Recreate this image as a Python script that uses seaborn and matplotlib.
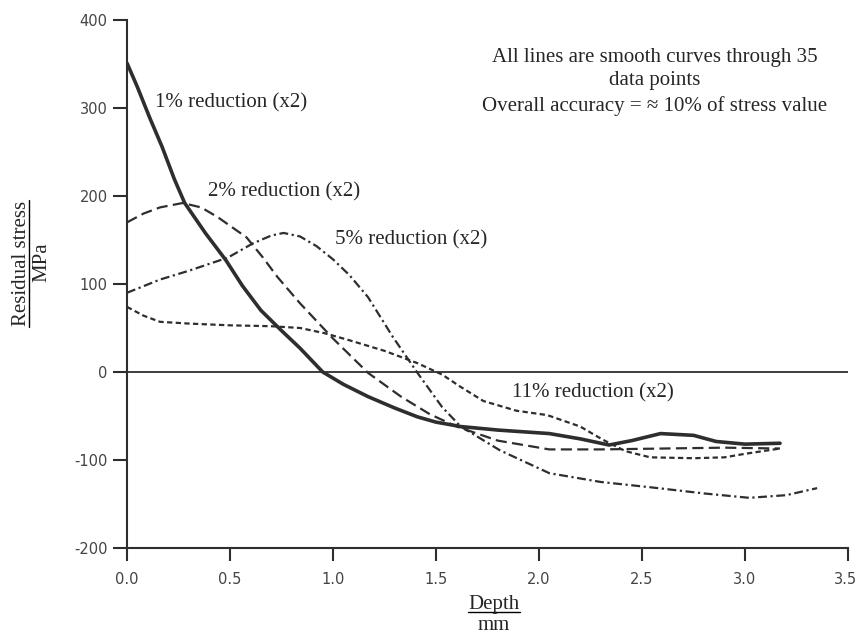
import numpy as np
import pandas as pd
import matplotlib
matplotlib.use("Agg")
import matplotlib.pyplot as plt
from matplotlib.lines import Line2D
import matplotlib.transforms as mtransforms
import seaborn as sns

# valeurs (profondeur en mm, contrainte en MPa)
depth_1 = [0.00, 0.05, 0.11, 0.17, 0.23, 0.28, 0.38, 0.48, 0.56, 0.65, 0.75, 0.84, 0.95, 1.05,
           1.17, 1.30, 1.41, 1.50, 1.62, 1.80, 2.05, 2.20, 2.34, 2.45, 2.59, 2.75, 2.86, 3.00, 3.17]
stress_1 = [351, 324, 289, 256, 219, 192, 158, 127, 98, 70, 47, 27, 0, -14,
            -28, -41, -51, -57, -62, -66, -70, -76, -83, -78, -70, -72, -79, -82, -81]

depth_2 = [0.00, 0.08, 0.16, 0.27, 0.36, 0.44, 0.58, 0.66, 0.73, 0.84, 1.00, 1.17, 1.33, 1.47,
           1.60, 1.80, 2.05, 2.30, 2.60, 2.90, 3.17]
stress_2 = [170, 180, 187, 192, 187, 176, 153, 130, 108, 78, 38, -1, -28, -48,
            -62, -78, -88, -88, -87, -86, -87]

depth_5 = [0.00, 0.16, 0.30, 0.49, 0.61, 0.70, 0.76, 0.84, 0.92, 1.00, 1.08, 1.17, 1.29, 1.41, 1.53,
           1.62, 1.81, 2.05, 2.30, 2.54, 2.80, 3.02, 3.20, 3.35]
stress_5 = [90, 105, 115, 130, 146, 155, 158, 154, 143, 128, 110, 85, 40, -1, -40,
            -62, -89, -115, -125, -131, -138, -143, -140, -132]

depth_11 = [0.00, 0.08, 0.16, 0.30, 0.50, 0.70, 0.84, 0.96, 1.08, 1.25, 1.41, 1.53, 1.62, 1.73,
            1.89, 2.04, 2.20, 2.31, 2.42, 2.54, 2.75, 2.90, 3.00, 3.17]
stress_11 = [74, 64, 57, 55, 53, 52, 50, 44, 36, 24, 10, -3, -17, -33,
             -44, -49, -62, -77, -90, -97, -98, -97, -93, -87]

curves = ["1%", "2%", "5%", "11%"]
x_ticks = [0.0, 0.5, 1.0, 1.5, 2.0, 2.5, 3.0, 3.5]
y_ticks = [-200, -100, 0, 100, 200, 300, 400]

frames = []
for name, xs, ys in zip(curves, [depth_1, depth_2, depth_5, depth_11],
                        [stress_1, stress_2, stress_5, stress_11]):
    frames.append(pd.DataFrame({"depth": xs, "stress": ys, "curve": name}))
df = pd.concat(frames, ignore_index=True)

sns.set_style("ticks")
plt.rcParams["font.family"] = ["DejaVu Sans"]

fig = plt.figure(figsize=(8.57, 6.36), dpi=100)
ax = fig.add_axes([0.1482, 0.1384, 0.8413, 0.8302])

ink = "#2e2e2e"
sns.lineplot(data=df, x="depth", y="stress", hue="curve", style="curve", size="curve",
             palette={c: ink for c in curves},
             dashes={"1%": "", "2%": (5, 2.4), "5%": (4, 1.6, 1.0, 1.6), "11%": (2.4, 1.5)},
             sizes={"1%": 2.6, "2%": 1.6, "5%": 1.6, "11%": 1.6},
             sort=False, estimator=None, legend=False, ax=ax)

ax.axhline(0, color=ink, lw=1.3, zorder=1)

ax.set_xlim(0, 3.5)
ax.set_ylim(-200, 400)
ax.set_xticks(x_ticks)
ax.set_xticklabels([f"{v:.1f}" for v in x_ticks])
ax.set_yticks(y_ticks)
ax.set_yticklabels([str(v) for v in y_ticks])
ax.set_xlabel("")
ax.set_ylabel("")
sns.despine(ax=ax)
for s in ["left", "bottom"]:
    ax.spines[s].set_color(ink)
    ax.spines[s].set_linewidth(1.5)
ax.tick_params(axis="both", colors=ink, labelcolor="#444444", labelsize=10.5, width=1.5)
ax.tick_params(axis="y", length=10, pad=4)
ax.tick_params(axis="x", length=9, pad=8)

# le dernier libellé touche le bord droit : petit décalage vers la gauche
last = ax.get_xticklabels()[-1]
last.set_transform(last.get_transform() + mtransforms.ScaledTranslation(-3 / 100, 0, fig.dpi_scale_trans))

serif = ["Liberation Serif", "DejaVu Serif"]
fs = 15
ax.text(0.136, 306, "1% reduction (x2)", family=serif, fontsize=fs, va="center")
ax.text(0.393, 205, "2% reduction (x2)", family=serif, fontsize=fs, va="center")
ax.text(1.01, 150, "5% reduction (x2)", family=serif, fontsize=fs, va="center")
ax.text(1.87, -24, "11% reduction (x2)", family=serif, fontsize=fs, va="center")
ax.text(2.563, 330, "All lines are smooth curves through 35\ndata points\n"
        "Overall accuracy = \u2248 10% of stress value",
        family=serif, fontsize=fs, ha="center", va="center", linespacing=1.35)

# libellés d'axes façon "fraction" (texte souligné au-dessus de l'unité)
fig.text(26 / 857, 1 - 263 / 636, "Residual stress", family=serif, fontsize=fs,
         rotation=90, rotation_mode="anchor", ha="center", va="baseline")
fig.text(46 / 857, 1 - 262 / 636, "MPa", family=serif, fontsize=fs,
         rotation=90, rotation_mode="anchor", ha="center", va="baseline")
fig.add_artist(Line2D([29 / 857, 29 / 857], [1 - 200 / 636, 1 - 327 / 636],
                      transform=fig.transFigure, color="black", lw=1))

fig.text(494 / 857, 1 - 609 / 636, "Depth", family=serif, fontsize=fs, ha="center", va="baseline")
fig.text(494 / 857, 1 - 630 / 636, "mm", family=serif, fontsize=fs, ha="center", va="baseline")
fig.add_artist(Line2D([468 / 857, 520 / 857], [1 - 612 / 636, 1 - 612 / 636],
                      transform=fig.transFigure, color="black", lw=1))

fig.savefig("out.png", dpi=100)
